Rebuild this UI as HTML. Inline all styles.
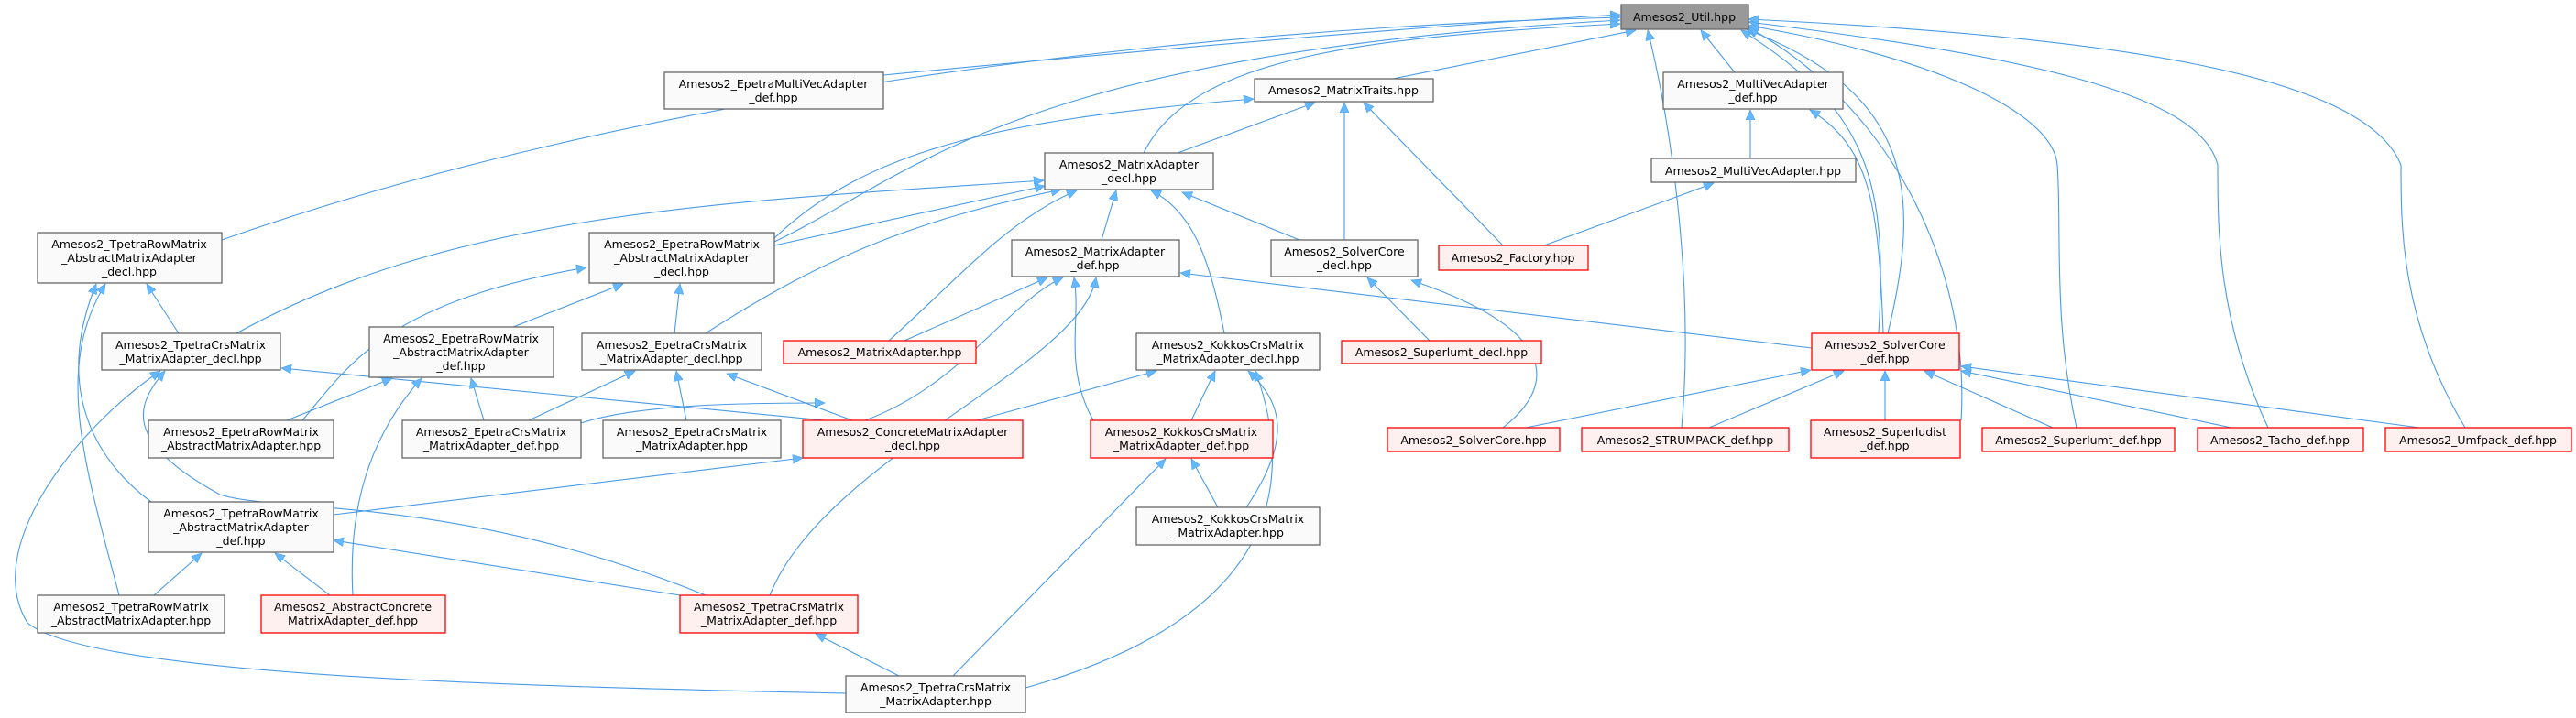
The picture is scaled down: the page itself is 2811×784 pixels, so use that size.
<!DOCTYPE html>
<html><head><meta charset="utf-8"><style>
html,body{margin:0;padding:0;background:#fff}
svg{display:block}
text{font-family:"DejaVu Sans","Liberation Sans",sans-serif;font-size:12.5px;fill:#000;text-anchor:middle}
.n rect{fill:#f9faf9;stroke:#666;stroke-width:1.3}
.r rect{fill:#fff0f0;stroke:#f00;stroke-width:1.3}
.g rect{fill:#999;stroke:#666;stroke-width:1.3}
path.e{fill:none;stroke:#4a9be6;stroke-width:1.1}
</style></head><body>
<svg width="2811" height="784" viewBox="0 0 2811 784" xmlns="http://www.w3.org/2000/svg">
<defs><marker id="a" markerUnits="userSpaceOnUse" markerWidth="12" markerHeight="10" refX="11" refY="5" orient="auto"><path d="M0,0 L11,5 L0,10 Z" fill="#63b8ff" stroke="#4a9be6" stroke-width="0.6"/></marker></defs>
<g marker-end="url(#a)">
<!-- to Util -->
<path class="e" d="M964,82 C1300,50 1600,25 1768,16"/>
<path class="e" d="M242,262 C700,100 1300,30 1768,19"/>
<path class="e" d="M845,264 C1000,190 1100,60 1768,22"/>
<path class="e" d="M1248,167 C1300,60 1500,40 1768,26"/>
<path class="e" d="M1520,86 L1785,33"/>
<path class="e" d="M1893,79 L1856,33"/>
<path class="e" d="M2050,364 C2060,200 2040,120 1900,33"/>
<path class="e" d="M2060,364 C2100,200 2080,100 1906,32"/>
<path class="e" d="M1835,467 C1850,300 1820,120 1798,33"/>
<path class="e" d="M2140,459 C2150,300 2070,120 1908,30"/>
<path class="e" d="M2266,467 C2240,350 2250,250 2245,180 C2240,120 2100,60 1908,28"/>
<path class="e" d="M2475,467 C2420,350 2420,250 2420,180 C2400,100 2200,60 1908,24"/>
<path class="e" d="M2690,467 C2620,350 2620,250 2620,180 C2580,80 2300,40 1908,21"/>
<!-- MatrixTraits -->
<path class="e" d="M1285,167 L1435,112"/>
<path class="e" d="M845,260 C950,160 1100,130 1368,108"/>
<path class="e" d="M1467,262 L1467,112"/>
<path class="e" d="M1640,268 L1488,112"/>
<!-- MultiVec -->
<path class="e" d="M1685,268 L1870,200"/>
<path class="e" d="M1910,173 L1910,120"/>
<path class="e" d="M2055,364 C2050,220 2040,160 1975,120"/>
<!-- MatrixAdapter_decl -->
<path class="e" d="M258,364 C500,230 800,220 1139,197"/>
<path class="e" d="M845,268 L1140,203"/>
<path class="e" d="M770,364 C900,280 1000,240 1158,207"/>
<path class="e" d="M1202,262 L1218,208"/>
<path class="e" d="M970,372 C1050,300 1100,240 1175,208"/>
<path class="e" d="M1336,364 C1320,280 1300,230 1256,208"/>
<path class="e" d="M1418,262 L1290,210"/>
<path class="e" d="M330,459 C380,400 420,330 640,292"/>
<!-- MatrixAdapter_def -->
<path class="e" d="M987,372 L1143,303"/>
<path class="e" d="M1193,459 C1160,400 1180,350 1172,303"/>
<path class="e" d="M840,650 C900,500 1180,400 1196,303"/>
<path class="e" d="M1977,380 L1288,298"/>
<path class="e" d="M944,459 C1050,420 1100,330 1160,303"/>
<path class="e" d="M634,462 C700,440 830,440 900,440"/>
<!-- SolverCore_decl -->
<path class="e" d="M1560,372 L1492,303"/>
<path class="e" d="M1640,467 C1700,420 1700,360 1540,306"/>
<!-- SolverCore_def -->
<path class="e" d="M1665,467 L1976,404"/>
<path class="e" d="M1865,467 L2012,405"/>
<path class="e" d="M2057,459 L2057,405"/>
<path class="e" d="M2240,467 L2100,405"/>
<path class="e" d="M2435,467 L2140,405"/>
<path class="e" d="M2640,467 L2140,400"/>
<!-- Kokkos -->
<path class="e" d="M1300,459 L1326,405"/>
<path class="e" d="M1360,554 C1410,480 1400,440 1362,405"/>
<path class="e" d="M1119,751 C1300,700 1440,600 1370,405"/>
<path class="e" d="M1066,459 L1262,405"/>
<path class="e" d="M1329,554 L1300,501"/>
<path class="e" d="M1040,738 L1272,501"/>
<!-- Tpetra -->
<path class="e" d="M981,738 L890,692"/>
<path class="e" d="M742,650 L364,590"/>
<path class="e" d="M770,650 C500,540 300,560 240,540 C130,480 150,440 180,405"/>
<path class="e" d="M168,650 L220,604"/>
<path class="e" d="M360,650 L300,604"/>
<path class="e" d="M364,562 L876,500"/>
<path class="e" d="M165,548 C100,500 60,420 105,310"/>
<path class="e" d="M130,650 C90,500 60,400 115,310"/>
<path class="e" d="M923,757 C600,750 100,740 30,680 C-20,600 80,470 175,405"/>
<path class="e" d="M195,364 L160,310"/>
<path class="e" d="M900,459 L307,402"/>
<!-- Epetra -->
<path class="e" d="M313,459 L428,413"/>
<path class="e" d="M528,459 L514,413"/>
<path class="e" d="M385,650 C380,560 400,480 460,413"/>
<path class="e" d="M560,357 L680,310"/>
<path class="e" d="M736,364 L742,310"/>
<path class="e" d="M577,459 L693,405"/>
<path class="e" d="M749,459 L738,405"/>
<path class="e" d="M930,459 L793,408"/>
</g>

<g class="g"><rect x="1769" y="5" width="139" height="27"/><text x="1838" y="23">Amesos2_Util.hpp</text></g>
<g class="n"><rect x="725" y="79" width="239" height="40"/><text x="844" y="96">Amesos2_EpetraMultiVecAdapter</text><text x="844" y="111">_def.hpp</text></g>
<g class="n"><rect x="1369" y="86" width="195" height="25"/><text x="1466" y="103">Amesos2_MatrixTraits.hpp</text></g>
<g class="n"><rect x="1815" y="79" width="196" height="40"/><text x="1913" y="96">Amesos2_MultiVecAdapter</text><text x="1913" y="111">_def.hpp</text></g>
<g class="n"><rect x="1802" y="173" width="223" height="26"/><text x="1913" y="191">Amesos2_MultiVecAdapter.hpp</text></g>
<g class="n"><rect x="1140" y="167" width="184" height="40"/><text x="1232" y="184">Amesos2_MatrixAdapter</text><text x="1232" y="199">_decl.hpp</text></g>
<g class="n"><rect x="41" y="254" width="201" height="55"/><text x="141" y="271">Amesos2_TpetraRowMatrix</text><text x="141" y="286">_AbstractMatrixAdapter</text><text x="141" y="301">_decl.hpp</text></g>
<g class="n"><rect x="643" y="254" width="202" height="55"/><text x="744" y="271">Amesos2_EpetraRowMatrix</text><text x="744" y="286">_AbstractMatrixAdapter</text><text x="744" y="301">_decl.hpp</text></g>
<g class="n"><rect x="1104" y="262" width="183" height="40"/><text x="1195" y="279">Amesos2_MatrixAdapter</text><text x="1195" y="294">_def.hpp</text></g>
<g class="n"><rect x="1387" y="262" width="160" height="40"/><text x="1467" y="279">Amesos2_SolverCore</text><text x="1467" y="294">_decl.hpp</text></g>
<g class="r"><rect x="1570" y="268" width="163" height="27"/><text x="1651" y="286">Amesos2_Factory.hpp</text></g>
<g class="n"><rect x="111" y="364" width="195" height="40"/><text x="208" y="381">Amesos2_TpetraCrsMatrix</text><text x="208" y="396">_MatrixAdapter_decl.hpp</text></g>
<g class="n"><rect x="403" y="357" width="201" height="55"/><text x="503" y="374">Amesos2_EpetraRowMatrix</text><text x="503" y="389">_AbstractMatrixAdapter</text><text x="503" y="404">_def.hpp</text></g>
<g class="n"><rect x="635" y="364" width="196" height="40"/><text x="733" y="381">Amesos2_EpetraCrsMatrix</text><text x="733" y="396">_MatrixAdapter_decl.hpp</text></g>
<g class="r"><rect x="855" y="372" width="210" height="25"/><text x="960" y="389">Amesos2_MatrixAdapter.hpp</text></g>
<g class="n"><rect x="1240" y="364" width="200" height="40"/><text x="1340" y="381">Amesos2_KokkosCrsMatrix</text><text x="1340" y="396">_MatrixAdapter_decl.hpp</text></g>
<g class="r"><rect x="1464" y="372" width="218" height="25"/><text x="1573" y="389">Amesos2_Superlumt_decl.hpp</text></g>
<g class="r"><rect x="1977" y="364" width="161" height="40"/><text x="2057" y="381">Amesos2_SolverCore</text><text x="2057" y="396">_def.hpp</text></g>
<g class="n"><rect x="162" y="459" width="202" height="41"/><text x="263" y="476">Amesos2_EpetraRowMatrix</text><text x="263" y="491">_AbstractMatrixAdapter.hpp</text></g>
<g class="n"><rect x="439" y="459" width="195" height="41"/><text x="536" y="476">Amesos2_EpetraCrsMatrix</text><text x="536" y="491">_MatrixAdapter_def.hpp</text></g>
<g class="n"><rect x="658" y="459" width="194" height="41"/><text x="755" y="476">Amesos2_EpetraCrsMatrix</text><text x="755" y="491">_MatrixAdapter.hpp</text></g>
<g class="r"><rect x="876" y="459" width="240" height="41"/><text x="996" y="476">Amesos2_ConcreteMatrixAdapter</text><text x="996" y="491">_decl.hpp</text></g>
<g class="r"><rect x="1190" y="459" width="199" height="41"/><text x="1289" y="476">Amesos2_KokkosCrsMatrix</text><text x="1289" y="491">_MatrixAdapter_def.hpp</text></g>
<g class="r"><rect x="1514" y="467" width="188" height="26"/><text x="1608" y="485">Amesos2_SolverCore.hpp</text></g>
<g class="r"><rect x="1726" y="467" width="226" height="26"/><text x="1839" y="485">Amesos2_STRUMPACK_def.hpp</text></g>
<g class="r"><rect x="1976" y="459" width="163" height="41"/><text x="2057" y="476">Amesos2_Superludist</text><text x="2057" y="491">_def.hpp</text></g>
<g class="r"><rect x="2163" y="467" width="210" height="26"/><text x="2268" y="485">Amesos2_Superlumt_def.hpp</text></g>
<g class="r"><rect x="2398" y="467" width="181" height="26"/><text x="2488" y="485">Amesos2_Tacho_def.hpp</text></g>
<g class="r"><rect x="2603" y="467" width="203" height="26"/><text x="2704" y="485">Amesos2_Umfpack_def.hpp</text></g>
<g class="n"><rect x="162" y="548" width="202" height="55"/><text x="263" y="565">Amesos2_TpetraRowMatrix</text><text x="263" y="580">_AbstractMatrixAdapter</text><text x="263" y="595">_def.hpp</text></g>
<g class="n"><rect x="1240" y="554" width="200" height="41"/><text x="1340" y="571">Amesos2_KokkosCrsMatrix</text><text x="1340" y="586">_MatrixAdapter.hpp</text></g>
<g class="n"><rect x="41" y="650" width="204" height="41"/><text x="143" y="667">Amesos2_TpetraRowMatrix</text><text x="143" y="682">_AbstractMatrixAdapter.hpp</text></g>
<g class="r"><rect x="285" y="650" width="201" height="41"/><text x="385" y="667">Amesos2_AbstractConcrete</text><text x="385" y="682">MatrixAdapter_def.hpp</text></g>
<g class="r"><rect x="742" y="650" width="194" height="41"/><text x="839" y="667">Amesos2_TpetraCrsMatrix</text><text x="839" y="682">_MatrixAdapter_def.hpp</text></g>
<g class="n"><rect x="923" y="738" width="196" height="40"/><text x="1021" y="755">Amesos2_TpetraCrsMatrix</text><text x="1021" y="770">_MatrixAdapter.hpp</text></g>
</svg>
</body></html>
